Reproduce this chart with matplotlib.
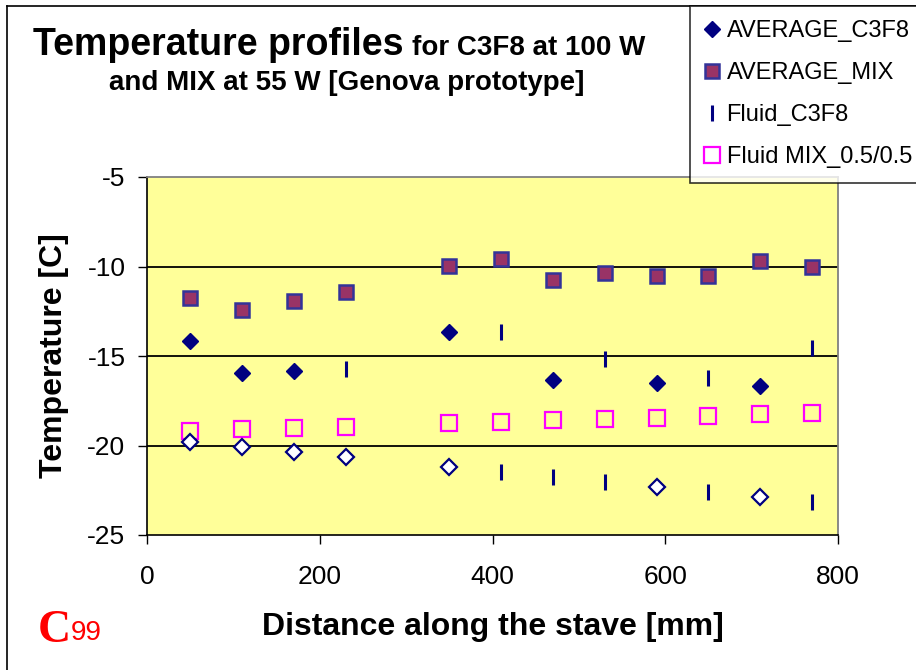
import numpy as np
import matplotlib
matplotlib.use("Agg")
import matplotlib.pyplot as plt
from matplotlib.lines import Line2D

plt.rcParams['font.family'] = ['Liberation Sans', 'DejaVu Sans']
plt.rcParams['axes.unicode_minus'] = False

# positions along the stave [mm]
x_all = [50, 110, 170, 230, 350, 410, 470, 530, 590, 650, 710, 770]

avg_mix = [-11.74, -12.43, -11.93, -11.42, -9.99, -9.60,
           -10.75, -10.34, -10.51, -10.51, -9.69, -10.03]
fluid_mix = [-19.19, -19.10, -19.02, -18.95, -18.76, -18.67,
             -18.60, -18.52, -18.45, -18.37, -18.26, -18.18]

avg_c3f8_x = [50, 110, 170, 350, 470, 590, 710]
avg_c3f8 = [-14.16, -15.95, -15.84, -13.66, -16.34, -16.50, -16.68]

avg_c3f8_low_x = [50, 110, 170, 230, 350, 590, 710]
avg_c3f8_low = [-19.80, -20.08, -20.36, -20.64, -21.20, -22.30, -22.88]

fluid_c3f8_x = [230, 410, 530, 650, 770]
fluid_c3f8 = [-15.73, -13.64, -15.17, -16.21, -14.57]

fluid_c3f8_low_x = [410, 470, 530, 650, 770]
fluid_c3f8_low = [-21.50, -21.78, -22.06, -22.60, -23.17]

navy = '#000080'

fig = plt.figure(figsize=(9.16, 6.7), dpi=100)
ax = fig.add_axes([147 / 916, 1 - 535 / 670, (838 - 147) / 916, (535 - 177) / 670])
ax.set_facecolor('#FFFF99')

for yv in [-10, -15, -20]:
    ax.axhline(yv, color='black', lw=1.3, zorder=1)

ax.plot(x_all, avg_mix, 's', ms=10, mfc='#993366', mec='#333399', mew=1.8, zorder=3)
ax.plot(avg_c3f8_x, avg_c3f8, 'D', ms=8.5, color=navy, zorder=3)
ax.plot(fluid_c3f8_x, fluid_c3f8, '|', ms=12, mew=2.2, color=navy, zorder=3)
ax.plot(fluid_c3f8_low_x, fluid_c3f8_low, '|', ms=12, mew=2.2, color=navy, zorder=3)
ax.plot(x_all, fluid_mix, 's', ms=11, mfc='none', mec='#FF00FF', mew=1.6, zorder=3)
ax.plot(avg_c3f8_low_x, avg_c3f8_low, 'D', ms=8, mfc='white', mec=navy, mew=1.6, zorder=4)

ax.set_xlim(0, 800)
ax.set_ylim(-25, -5)
ax.set_xticks([0, 200, 400, 600, 800])
ax.set_yticks([-25, -20, -15, -10, -5])
ax.tick_params(direction='out', length=6.5, width=1, labelsize=19)
ax.tick_params(axis='x', pad=15)
ax.tick_params(axis='y', pad=9)
for s in ['top', 'right']:
    ax.spines[s].set_color('#808080')
    ax.spines[s].set_linewidth(1.3)
for s in ['left', 'bottom']:
    ax.spines[s].set_linewidth(1.2)

ax.set_xlabel('Distance along the stave [mm]', fontsize=23, fontweight='bold', labelpad=17)
ax.set_ylabel('Temperature [C]', fontsize=23, fontweight='bold', labelpad=13)

# title
fig.text(33 / 916, 1 - 55 / 670, 'Temperature profiles', fontsize=27,
         fontweight='bold', ha='left', va='baseline')
fig.text(412 / 916, 1 - 55 / 670, 'for C3F8 at 100 W', fontsize=20,
         fontweight='bold', ha='left', va='baseline')
fig.text(347 / 916, 1 - 90 / 670, 'and MIX at 55 W [Genova prototype]', fontsize=20,
         fontweight='bold', ha='center', va='baseline')

# legend
handles = [
    Line2D([], [], ls='none', marker='D', ms=8.5, color=navy),
    Line2D([], [], ls='none', marker='s', ms=10, mfc='#993366', mec='#333399', mew=1.8),
    Line2D([], [], ls='none', marker='|', ms=12, mew=2.2, color=navy),
    Line2D([], [], ls='none', marker='s', ms=11, mfc='none', mec='#FF00FF', mew=1.6),
]
labels = ['AVERAGE_C3F8', 'AVERAGE_MIX', 'Fluid_C3F8', 'Fluid MIX_0.5/0.5']
leg = fig.legend(handles, labels, loc='upper left', bbox_to_anchor=(690 / 916, 1 - 6 / 670),
                 fontsize=17, frameon=True, fancybox=False, edgecolor='black',
                 handlelength=0.7, handletextpad=0.25, labelspacing=0.85,
                 borderpad=0.6, borderaxespad=0)
leg.get_frame().set_linewidth(1.2)

# outer chart border
fig.add_artist(Line2D([7 / 916, 7 / 916], [0, 1 - 6 / 670], color='black', lw=1.2))
fig.add_artist(Line2D([7 / 916, 1], [1 - 6 / 670, 1 - 6 / 670], color='black', lw=1.2))

# logo
fig.text(38 / 916, 1 - 642 / 670, 'C', fontsize=33, fontweight='bold', color='red',
         family='Liberation Serif', ha='left', va='baseline')
fig.text(71 / 916, 1 - 640 / 670, '99', fontsize=20, color='red', ha='left', va='baseline')

fig.savefig('out.png', dpi=100)
